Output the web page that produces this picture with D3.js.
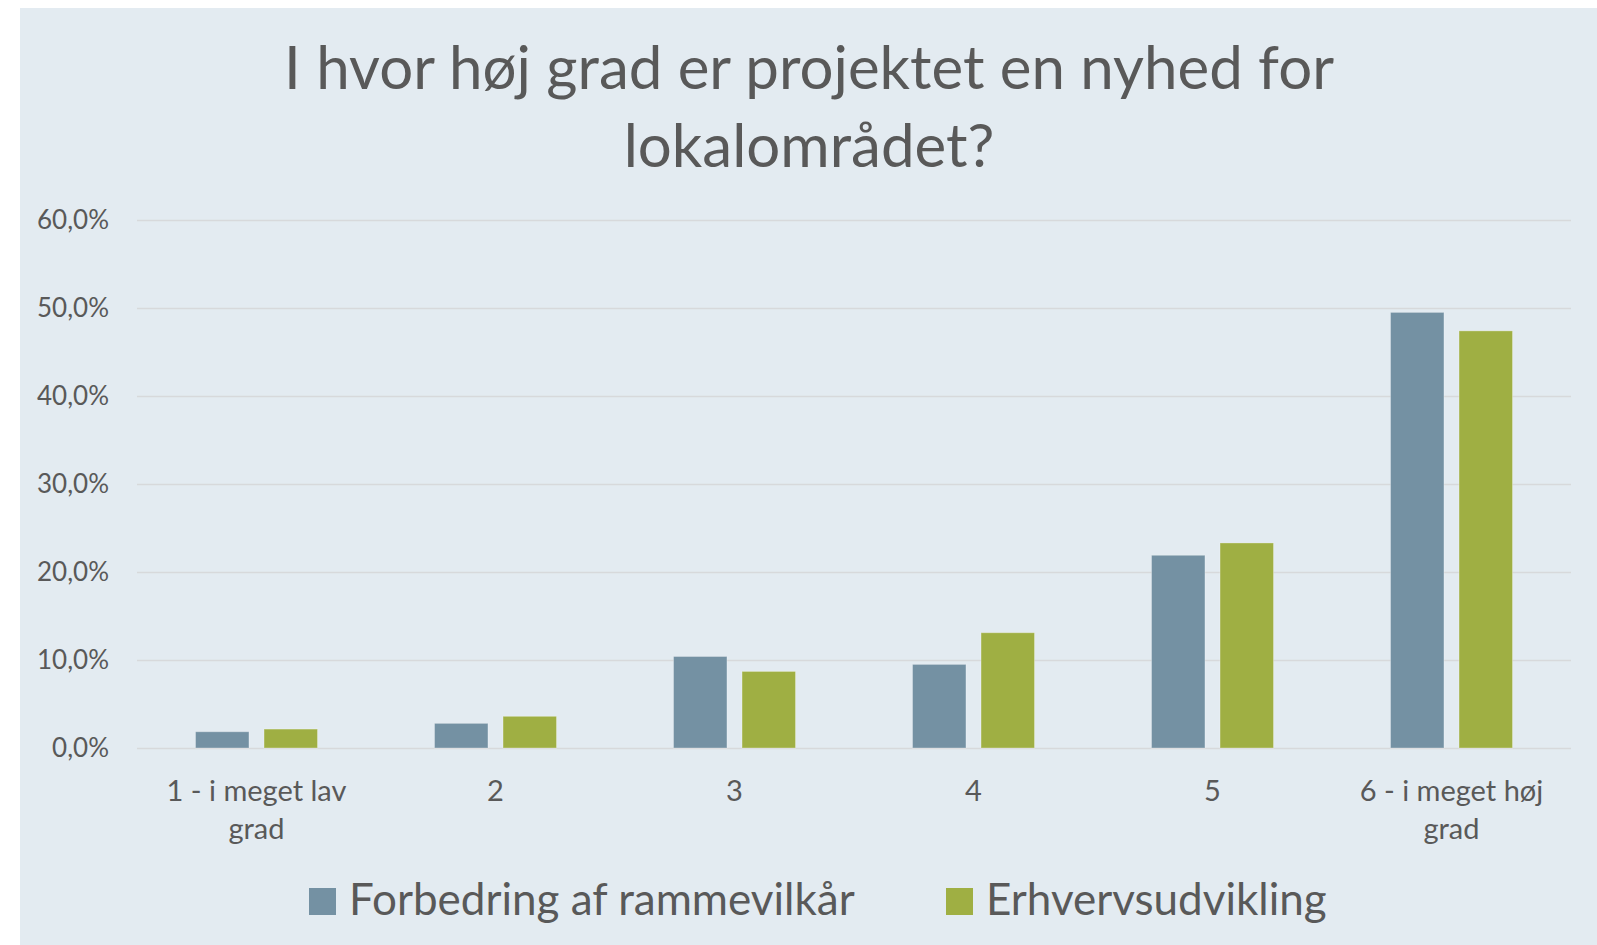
<!DOCTYPE html>
<html lang="da">
  <head>
    <meta charset="UTF-8" />
    <script src="https://d3js.org/d3.v7.min.js"></script>
    <title>I hvor høj grad er projektet en nyhed for lokalområdet?</title>
    <style>
      html, body { margin: 0; padding: 0; background: #ffffff; }
      svg { display: block; font-family: Lato, "Open Sans", sans-serif; }
    </style>
  </head>
  <body>
    <div id="chart"></div>
    <script>
      var categories = ["1", "2", "3", "4", "5", "6"];
      var categoryLabels = [["1 - i meget lav", "grad"], ["2"], ["3"], ["4"], ["5"], ["6 - i meget høj", "grad"]];
      var series = ["Forbedring af rammevilkår", "Erhvervsudvikling"];
      var forbedring = [1.85, 2.8, 10.4, 9.5, 21.9, 49.5];
      var erhverv = [2.15, 3.6, 8.7, 13.1, 23.3, 47.4];
      var yTicks = [0, 10, 20, 30, 40, 50, 60];
      var titleLines = ["I hvor høj grad er projektet en nyhed for", "lokalområdet?"];

      var width = 1597,
        height = 945,
        margin = { top: 220, right: 26, bottom: 197, left: 137 };

      var colors = ["#7491a3", "#9faf43"],
        textColor = "#595959";

      var locale = d3.formatLocale({ decimal: ",", thousands: ".", grouping: [3], currency: ["", " kr."] });
      var pct = locale.format(".1f");

      var svg = d3.select("#chart").append("svg").attr("width", width).attr("height", height);

      // panel
      svg.append("rect")
        .attr("x", 20).attr("y", 8)
        .attr("width", width - 20).attr("height", height - 8)
        .attr("fill", "#e3ebf1");

      // title
      svg.append("g")
        .selectAll("text")
        .data(titleLines)
        .join("text")
        .attr("x", 809)
        .attr("y", function (d, i) { return 89 + i * 78; })
        .attr("text-anchor", "middle")
        .attr("fill", textColor)
        .style("font-size", "60px")
        .text(function (d) { return d; });

      var y = d3.scaleLinear().domain([0, 60]).range([height - margin.bottom, margin.top]);
      var x0 = d3.scaleBand().domain(categories).range([margin.left, width - margin.right]);
      var x1 = d3.scaleBand().domain(series).range([0, 122]).paddingInner(0.22);
      var clusterOffset = (x0.bandwidth() - 122) / 2;

      // y axis + gridlines
      var yAxis = svg.append("g")
        .attr("transform", "translate(" + margin.left + ",0)")
        .call(d3.axisLeft(y)
          .tickValues(yTicks)
          .tickSize(-(width - margin.left - margin.right))
          .tickPadding(28)
          .tickFormat(function (d) { return pct(d) + "%"; }));
      yAxis.select(".domain").remove();
      yAxis.selectAll(".tick line").attr("stroke", "#d7d9db").attr("stroke-width", 1.5);
      yAxis.selectAll(".tick text")
        .attr("fill", textColor)
        .style("font-size", "26px")
        .style("font-family", "Lato, sans-serif");

      // bars
      var rows = categories.map(function (c, i) {
        return { cat: c, values: [forbedring[i], erhverv[i]] };
      });

      svg.append("g")
        .selectAll("g")
        .data(rows)
        .join("g")
        .attr("transform", function (d) { return "translate(" + (x0(d.cat) + clusterOffset) + ",0)"; })
        .selectAll("rect")
        .data(function (d) {
          return d.values.map(function (v, j) { return { key: series[j], value: v, j: j }; });
        })
        .join("rect")
        .attr("x", function (d) { return x1(d.key); })
        .attr("y", function (d) { return y(d.value); })
        .attr("width", x1.bandwidth())
        .attr("height", function (d) { return y(0) - y(d.value); })
        .attr("fill", function (d) { return colors[d.j]; })
        .attr("stroke", "rgba(255,255,255,0.3)")
        .attr("stroke-width", 1);

      // x axis labels
      var xAxis = svg.append("g")
        .attr("transform", "translate(0," + (height - margin.bottom) + ")")
        .call(d3.axisBottom(x0).tickSize(0).tickFormat(""));
      xAxis.select(".domain").remove();
      xAxis.selectAll(".tick text")
        .attr("y", 0)
        .attr("dy", null)
        .attr("fill", textColor)
        .style("font-size", "29px")
        .style("font-family", "Lato, sans-serif")
        .each(function (d, i) {
          var t = d3.select(this);
          categoryLabels[i].forEach(function (line, k) {
            t.append("tspan").attr("x", 0).attr("y", 53 + k * 38).text(line);
          });
        });

      // legend
      var legendX = [309, 946];
      var legend = svg.append("g")
        .selectAll("g")
        .data(series)
        .join("g")
        .attr("transform", function (d, i) { return "translate(" + legendX[i] + ",888)"; });
      legend.append("rect")
        .attr("width", 27).attr("height", 27)
        .attr("fill", function (d, i) { return colors[i]; });
      legend.append("text")
        .attr("x", 40).attr("y", 27)
        .attr("fill", textColor)
        .style("font-size", "44px")
        .text(function (d) { return d; });
    </script>
  </body>
</html>
